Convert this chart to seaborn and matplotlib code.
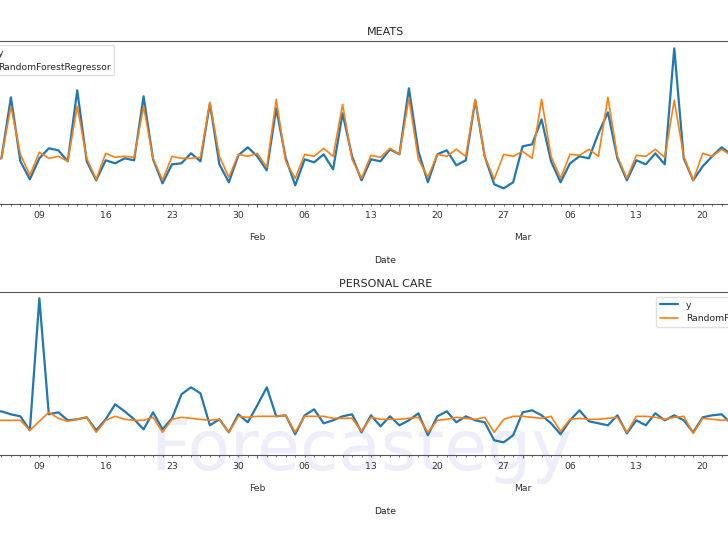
import matplotlib
matplotlib.use("Agg")
import matplotlib.pyplot as plt
import matplotlib.dates as mdates
from matplotlib.ticker import FuncFormatter
import seaborn as sns
import pandas as pd

# daily points, 2017-01-04 .. 2017-03-23 (arbitrary units)
dates = pd.date_range("2017-01-04", "2017-03-23", freq="D")

meats_y = [45, 46, 107, 43, 25, 46, 56, 54, 43, 114, 43, 24, 44, 41, 46, 44, 108, 45, 21, 40,
           41, 51, 43, 101, 40, 22, 49, 57,
           48, 34, 96, 46, 19, 45, 42, 50, 35, 91, 48, 24, 45, 43, 55, 50, 116, 53, 22, 50,
           54, 39, 44, 104, 48, 20, 16, 22,
           58, 60, 85, 43, 22, 41, 48, 46, 71, 92, 46, 24, 44, 40, 51, 40, 156, 46, 24, 38,
           48, 57, 50]
meats_rf = [46, 46, 98, 50, 29, 52, 46, 48, 43, 98, 46, 25, 51, 47, 48, 47, 98, 46, 24, 48,
            46, 46, 47, 102, 48, 27, 50, 48,
            51, 37, 105, 43, 26, 50, 48, 56, 48, 100, 45, 26, 49, 47, 56, 50, 106, 45, 27, 50,
            48, 55, 48, 105, 48, 25, 50, 48,
            53, 46, 105, 48, 26, 50, 49, 55, 48, 107, 48, 26, 49, 48, 55, 47, 104, 48, 24, 51,
            48, 55, 49]
care_y = [44, 44, 41, 39, 25, 157, 41, 43, 35, 36, 38, 25, 36, 51, 44, 36, 26, 43, 26, 37,
          61, 68, 62, 30, 36, 23, 41, 33,
          50, 68, 39, 40, 21, 40, 46, 32, 35, 39, 41, 23, 40, 29, 39, 30, 35, 42, 20, 39,
          44, 33, 39, 35, 33, 15, 13, 20,
          43, 45, 40, 32, 21, 35, 45, 34, 32, 30, 40, 22, 35, 30, 42, 35, 40, 35, 23, 38,
          40, 41, 32]
care_rf = [35, 35, 35, 35, 25, 34, 43, 37, 34, 36, 38, 23, 35, 39, 36, 35, 35, 38, 23, 36,
           38, 37, 36, 35, 36, 23, 39, 38,
           39, 39, 39, 40, 23, 39, 39, 39, 37, 37, 37, 24, 38, 36, 36, 36, 37, 38, 23, 35,
           36, 38, 37, 36, 38, 23, 36, 39,
           39, 38, 37, 39, 24, 36, 37, 36, 36, 37, 38, 23, 39, 39, 38, 36, 38, 39, 22, 37,
           36, 35, 36]

panels = [("MEATS", meats_y, meats_rf, "upper left", 163.6),
          ("PERSONAL CARE", care_y, care_rf, "upper right", 163.0)]

sns.set_theme(style="ticks")
plt.rcParams["font.family"] = ["DejaVu Sans"]

fs = 6.7
fig = plt.figure(figsize=(7.28, 5.46), dpi=100)
blue, orange = sns.color_palette("tab10")[:2]


def major_fmt(x, pos):
    d = mdates.num2date(x)
    if d.month == 1 and d.day == 1:
        return d.strftime("\n\n%b\n%Y")
    return d.strftime("\n\n%b")


def minor_fmt(x, pos):
    d = mdates.num2date(x)
    return d.strftime("%d") if d.weekday() == 0 else ""


# the visible part is a crop: axes run past both sides of the canvas
positions = [[-0.0501, 0.6258, 1.1585, 0.2996],
             [-0.0501, 0.1661, 1.1585, 0.2985]]

for (title, yv, rf, loc, top), pos in zip(panels, positions):
    ax = fig.add_axes(pos)
    sns.lineplot(x=dates, y=yv, ax=ax, color=blue, linewidth=1.6, label="y")
    sns.lineplot(x=dates, y=rf, ax=ax, color=orange, linewidth=1.2,
                 label="RandomForestRegressor")
    ax.set_xlim(pd.Timestamp("2017-01-01"), pd.Timestamp("2017-03-31"))
    ax.set_ylim(0, top)
    ax.set_title(title, fontsize=8, pad=4, color="#262626")
    ax.set_xlabel("Date", fontsize=fs, labelpad=2.7, color="#262626")
    ax.set_ylabel("")
    ax.set_yticks([])

    ax.xaxis.set_major_locator(mdates.MonthLocator())
    ax.xaxis.set_major_formatter(FuncFormatter(major_fmt))
    ax.xaxis.set_minor_locator(mdates.DayLocator())
    ax.xaxis.set_minor_formatter(FuncFormatter(minor_fmt))
    ax.tick_params(axis="x", which="major", length=2.5, width=0.6, pad=3.0,
                   labelsize=fs, colors="#333333")
    ax.tick_params(axis="x", which="minor", length=1.5, width=0.5, pad=3.0,
                   labelsize=fs, colors="#333333")
    for s in ax.spines.values():
        s.set_linewidth(0.8)
        s.set_color("#555555")

    ax.legend(loc=loc, fontsize=fs, frameon=True, framealpha=0.8,
              edgecolor="0.85", fancybox=True, borderaxespad=0.5)
    ax.set_facecolor("none")

# faint site watermark behind the lines
fig.text(0.206, 0.139, "Forecastegy", fontsize=50, color="#eeedfa",
         ha="left", va="baseline", zorder=-1)

fig.savefig("out.png", dpi=100, facecolor="white")
